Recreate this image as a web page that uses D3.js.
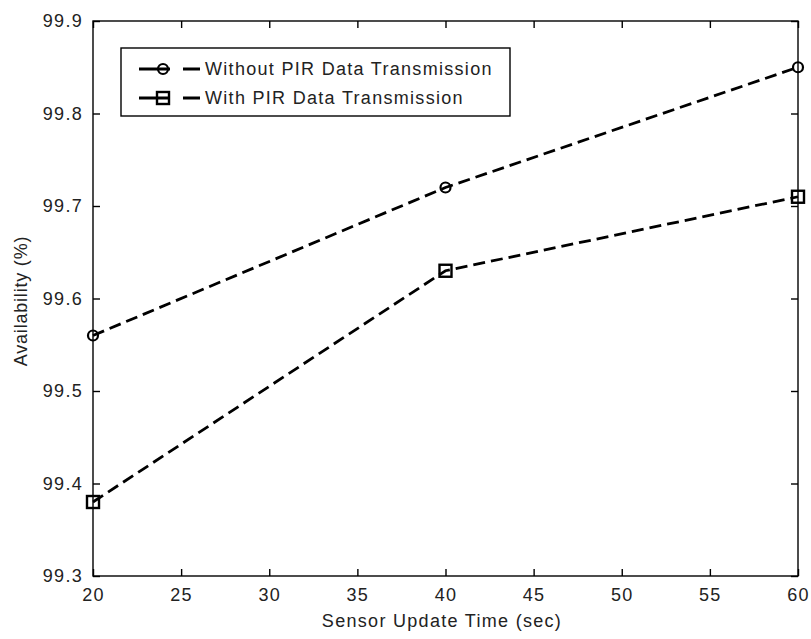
<!DOCTYPE html>
<html>
<head>
<meta charset="utf-8">
<script src="https://cdn.jsdelivr.net/npm/d3@7"></script>
<style>
  html, body { margin: 0; padding: 0; background: #fff; }
  text { font-family: "Liberation Sans", Arial, sans-serif; fill: #222; letter-spacing: 1.3px; }
</style>
</head>
<body>
<svg id="chart" width="811" height="639"></svg>
<script>
// Sensor update interval (seconds)
const updateTimes = [20, 40, 60];
// Availability (%) for each configuration
const withoutPIR = [99.56, 99.72, 99.85];
const withPIR = [99.38, 99.63, 99.71];
const seriesNames = ["Without PIR Data Transmission", "With PIR Data Transmission"];
const xTicks = [20, 25, 30, 35, 40, 45, 50, 55, 60];
const yTicks = [99.3, 99.4, 99.5, 99.6, 99.7, 99.8, 99.9];

const svg = d3.select("#chart");
const m = { left: 93, right: 798, top: 21, bottom: 576 };
const fontSize = 18;

const x = d3.scaleLinear().domain([20, 60]).range([m.left, m.right]);
const y = d3.scaleLinear().domain([99.3, 99.9]).range([m.bottom, m.top]);

// Frame
svg.append("rect")
  .attr("x", m.left).attr("y", m.top)
  .attr("width", m.right - m.left).attr("height", m.bottom - m.top)
  .attr("fill", "none").attr("stroke", "#000").attr("stroke-width", 1.4);

const tickLen = 7;
// Axes with inward ticks on all four sides
const xAxisB = d3.axisBottom(x).tickValues(xTicks).tickSizeInner(-tickLen).tickSizeOuter(0).tickPadding(12).tickFormat(d3.format("d"));
const xAxisT = d3.axisTop(x).tickValues(xTicks).tickSizeInner(-tickLen).tickSizeOuter(0).tickFormat("");
const yAxisL = d3.axisLeft(y).tickValues(yTicks).tickSizeInner(-tickLen).tickSizeOuter(0).tickPadding(10).tickFormat(d3.format(".1f"));
const yAxisR = d3.axisRight(y).tickValues(yTicks).tickSizeInner(-tickLen).tickSizeOuter(0).tickFormat("");

function styleAxis(g) {
  g.select(".domain").remove();
  g.selectAll(".tick line").attr("stroke", "#000").attr("stroke-width", 1.4);
  g.selectAll(".tick text").attr("font-size", fontSize).attr("fill", "#222")
    .style("font-family", "'Liberation Sans', Arial, sans-serif");
}

svg.append("g").attr("transform", `translate(0,${m.bottom})`).call(xAxisB).call(styleAxis);
svg.append("g").attr("transform", `translate(0,${m.top})`).call(xAxisT).call(styleAxis);
svg.append("g").attr("transform", `translate(${m.left},0)`).call(yAxisL).call(styleAxis);
svg.append("g").attr("transform", `translate(${m.right},0)`).call(yAxisR).call(styleAxis);

// Axis titles
svg.append("text")
  .attr("x", 442).attr("y", 627)
  .attr("text-anchor", "middle").attr("font-size", fontSize)
  .text("Sensor Update Time (sec)");
svg.append("text")
  .attr("transform", `translate(27,301) rotate(-90)`)
  .attr("text-anchor", "middle").attr("font-size", fontSize)
  .style("letter-spacing", "0.8px")
  .text("Availability (%)");

const line = d3.line().x(d => x(d[0])).y(d => y(d[1]));
const series = [
  { name: seriesNames[0], values: withoutPIR, marker: "circle" },
  { name: seriesNames[1], values: withPIR, marker: "square" }
];

function drawMarker(g, type, cx, cy) {
  if (type === "circle") {
    g.append("circle").attr("cx", cx).attr("cy", cy).attr("r", 5)
      .attr("fill", "none").attr("stroke", "#000").attr("stroke-width", 2.2);
  } else {
    g.append("rect").attr("x", cx - 6).attr("y", cy - 6).attr("width", 12).attr("height", 12)
      .attr("fill", "none").attr("stroke", "#000").attr("stroke-width", 2.4);
  }
}

series.forEach(s => {
  const pts = updateTimes.map((t, i) => [t, s.values[i]]);
  svg.append("path").datum(pts)
    .attr("d", line)
    .attr("fill", "none").attr("stroke", "#000").attr("stroke-width", 2.8)
    .attr("stroke-dasharray", "12,6");
  const mg = svg.append("g");
  pts.forEach(p => drawMarker(mg, s.marker, x(p[0]), y(p[1])));
});

// Legend
const lg = svg.append("g");
lg.append("rect").attr("x", 121).attr("y", 48).attr("width", 389).attr("height", 68)
  .attr("fill", "#fff").attr("stroke", "#000").attr("stroke-width", 1.4);
series.forEach((s, i) => {
  const yy = 69 + i * 29;
  lg.append("line").attr("x1", 139).attr("x2", 200).attr("y1", yy).attr("y2", yy)
    .attr("stroke", "#000").attr("stroke-width", 3).attr("stroke-dasharray", "31,13,17");
  drawMarker(lg, s.marker, 163, yy);
  lg.append("text").attr("x", 205).attr("y", yy).attr("dy", "0.36em")
    .attr("font-size", fontSize).text(s.name);
});
</script>
</body>
</html>
